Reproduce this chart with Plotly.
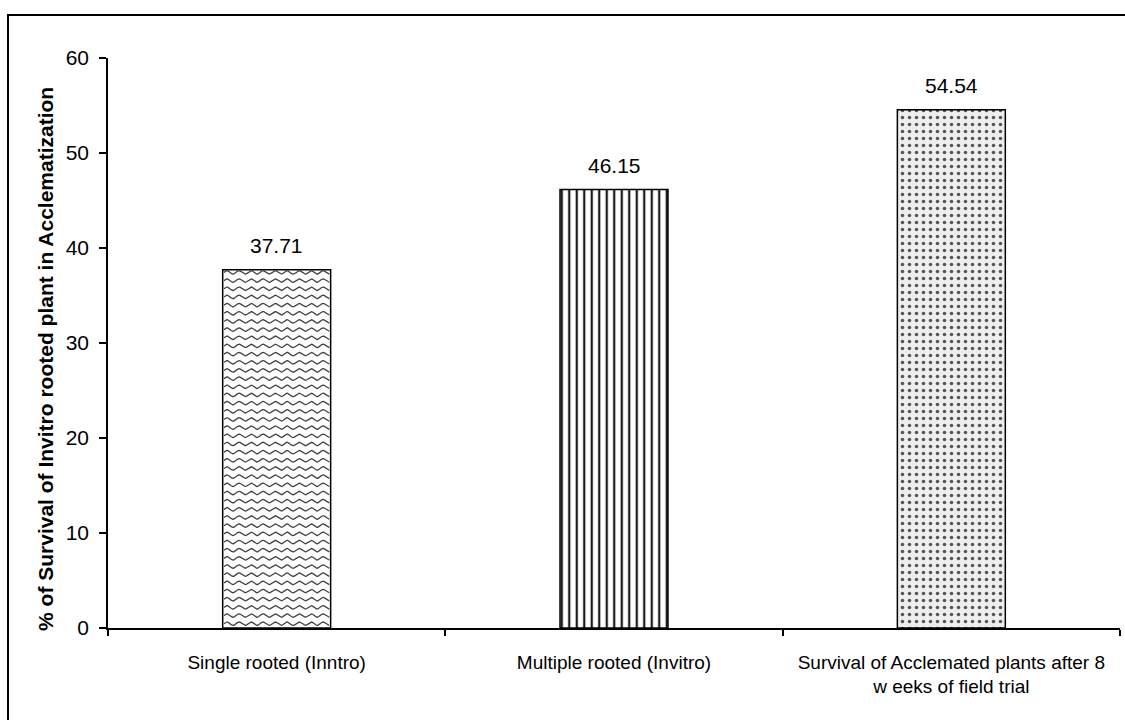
import numpy as np
import plotly.graph_objects as go

categories = [
    "Single rooted (Inntro)",
    "Multiple rooted (Invitro)",
    "Survival of Acclemated plants after 8<br>w eeks of field trial",
]
survival = [37.71, 46.15, 54.54]
value_labels = ["37.71", "46.15", "54.54"]
y_ticks = [0, 10, 20, 30, 40, 50, 60]
y_title = "% of Survival of Invitro rooted plant in Acclematization"

FONT = "Liberation Sans, Arial, sans-serif"
BAR_WIDTH = 0.32

# Fill style for each bar: (pattern shape, foreground, background, size, solidity)
fills = [
    ("", "#333333", "white", 8, 0.3),
    ("|", "#1a1a1a", "white", 7.5, 0.3),
    (".", "#555555", "#eeeeee", 7, 0.2),
]

fig = go.Figure()

for cat, v, (shape, fg, bg, size, solid) in zip(categories, survival, fills):
    marker = dict(color=bg, line=dict(color="black", width=1.5))
    if shape:
        marker["pattern"] = dict(
            shape=shape, fgcolor=fg, bgcolor=bg, size=size,
            solidity=solid, fillmode="replace",
        )
    fig.add_trace(go.Bar(
        x=[cat], y=[v], width=BAR_WIDTH, marker=marker,
        hoverinfo="skip", showlegend=False,
    ))

# Wavy hatch inside the first bar, spanning its width and height
half = BAR_WIDTH / 2 - 0.004
period = 0.0356
amp = 0.18
gap = 0.86
wx, wy = [], []
xs = np.linspace(-half, half, 120)
level = 0.45
while level + amp < survival[0]:
    wx.extend(xs.tolist() + [None])
    wy.extend((level + amp * np.sin(2 * np.pi * (xs + half) / period)).tolist() + [None])
    level += gap
fig.add_trace(go.Scatter(
    x=wx, y=wy, xaxis="x2", yaxis="y",
    mode="lines", line=dict(color="#444444", width=1.3),
    hoverinfo="skip", showlegend=False,
))

# Value labels above the bars
for cat, v, txt in zip(categories, survival, value_labels):
    fig.add_annotation(
        x=cat, y=v, text=txt, showarrow=False,
        yanchor="bottom", yshift=11,
        font=dict(family=FONT, size=21, color="black"),
    )

# Vertical y-axis title
fig.add_annotation(
    xref="paper", yref="paper", x=-0.0613, y=0.472,
    text=f"<b>{y_title}</b>", textangle=-90, showarrow=False,
    xanchor="center", yanchor="middle",
    font=dict(family=FONT, size=21, color="black"),
)

# Outer frame around the chart
fig.add_shape(
    type="rect", xref="paper", yref="paper",
    x0=-0.0988, x1=1.05, y0=-0.4, y1=1.0754,
    line=dict(color="black", width=2), fillcolor="rgba(0,0,0,0)",
)

fig.update_layout(
    width=1125, height=720,
    margin=dict(l=108, r=5, t=58, b=92),
    plot_bgcolor="white", paper_bgcolor="white",
    font=dict(family=FONT, color="black"),
    barmode="overlay",
    xaxis=dict(
        type="category",
        range=[-0.5, 2.5],
        showline=True, linecolor="black", linewidth=1.5,
        ticks="outside", tickson="boundaries", ticklen=6,
        tickcolor="black", tickwidth=1.5,
        tickfont=dict(family=FONT, size=19, color="black"),
        ticklabelstandoff=16,
        showgrid=False, zeroline=False,
    ),
    xaxis2=dict(
        overlaying="x", range=[-0.5, 2.5], visible=False,
    ),
    yaxis=dict(
        range=[0, 60],
        tickvals=y_ticks,
        showline=True, linecolor="black", linewidth=1.5,
        ticks="outside", ticklen=7, tickcolor="black", tickwidth=1.5,
        tickfont=dict(family=FONT, size=21, color="black"),
        ticklabelstandoff=6,
        showgrid=False, zeroline=False,
    ),
)

fig.write_html("out.html")
